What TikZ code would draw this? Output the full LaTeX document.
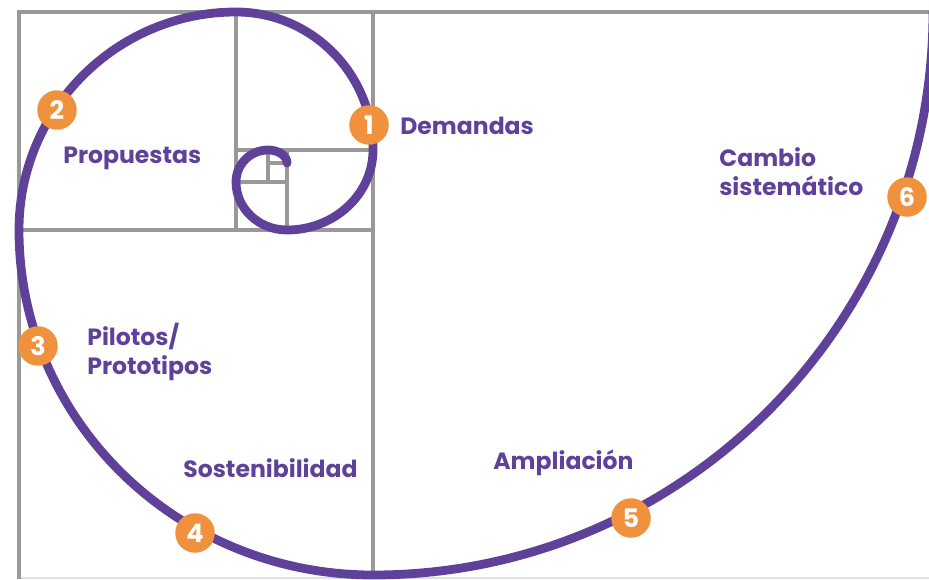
\documentclass[tikz,border=0pt]{standalone}
\usepackage{fontspec}
\setmainfont{Poppins}
\usepackage{tikz}

\definecolor{spiralpurple}{HTML}{5F4199}
\definecolor{dotorange}{HTML}{F0913E}
\definecolor{gridgray}{HTML}{999999}

\tikzset{
  gridline/.style={draw=gridgray, line width=2pt},
  spiral/.style={draw=spiralpurple, line width=5pt, line cap=round},
  numdot/.style={shape=circle, fill=dotorange, text=white, minimum size=7.9mm, inner sep=0pt,
    font=\fontsize{14.5}{14.5}\selectfont\bfseries},
  stage/.style={text=spiralpurple, anchor=base west, inner sep=0pt, align=left,
    font=\fontsize{13.4}{16.5}\selectfont\bfseries}
}

\begin{document}
\begin{tikzpicture}[x=0.02cm, y=0.02cm]
        \clip (0,0) rectangle (929,579);

        % squares of the golden rectangle
        \draw[gridgray!30, line width=0.6pt] (19,1) -- (929,1);
        \draw[gridline] (19,0) -- (19,567) -- (929,567);
        \draw[gridline] (373,0) -- (373,567);
        \draw[gridline] (19,349) -- (373,349);
        \draw[gridline] (236,567) -- (236,349);
        \draw[gridline] (236,429) -- (373,429);
        \draw[gridline] (287,429) -- (287,349);
        \draw[gridline] (236,397) -- (287,397);
        \draw[gridline] (268,429) -- (268,397);
        \draw[gridline] (268,416) -- (287,416);

        % spiral, from outside in
        \draw[spiral] (933,567)
            arc[start angle=0, end angle=-90, x radius=560, y radius=563]
            arc[start angle=-90, end angle=-180, x radius=354, y radius=345]
            arc[start angle=180, end angle=90, x radius=217, y radius=218]
            arc[start angle=90, end angle=0, x radius=137, y radius=138]
            arc[start angle=0, end angle=-90, x radius=86, y radius=80]
            arc[start angle=-90, end angle=-180, x radius=51, y radius=48]
            arc[start angle=180, end angle=90, x radius=32, y radius=32]
            arc[start angle=90, end angle=0, x radius=19, y radius=13];

        % numbered points
        \node[numdot] (n1) at (369,454) {1};
        \node[numdot] (n2) at (57,469) {2};
        \node[numdot] (n3) at (38,233) {3};
        \node[numdot] (n4) at (195,46) {4};
        \node[numdot] (n5) at (631,61) {5};
        \node[numdot] (n6) at (907,382) {6};

        % stages
        \node[stage] (demandas) at (400,444) {Demandas};
        \node[stage] (propuestas) at (63,416) {Propuestas};
        \node[stage, anchor=west] (cambio) at (719,407.5) {Cambio\\sistemático};
        \node[stage, anchor=west] (pilotos) at (87,227) {Pilotos/\\Prototipos};
        \node[stage] (sostenibilidad) at (183,102) {Sostenibilidad};
        \node[stage] (ampliacion) at (493,110) {Ampliación};
    \end{tikzpicture}
\end{document}
